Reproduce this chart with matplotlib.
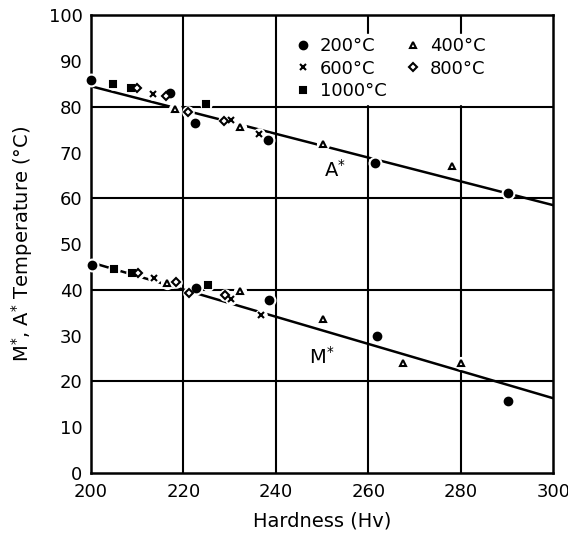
"""M*, A* temperature against hardness for several tempering temperatures"""

import matplotlib.pyplot as plt

# A* points per tempering temperature (hardness Hv, temperature degC)
a_200_hv = [200.1, 217.2, 222.5, 238.4, 261.5, 290.2]
a_200_t = [85.8, 83.0, 76.5, 72.7, 67.8, 61.2]
a_400_hv = [218.2, 232.3, 250.3, 278.1]
a_400_t = [79.6, 75.5, 71.8, 67.1]
a_600_hv = [213.5, 230.4, 236.4]
a_600_t = [82.7, 77.2, 74.0]
a_800_hv = [209.9, 216.2, 220.9, 228.9]
a_800_t = [84.0, 82.3, 78.9, 76.9]
a_1000_hv = [204.7, 208.7, 225.0]
a_1000_t = [84.9, 84.0, 80.7]

# M* points per tempering temperature
m_200_hv = [200.3, 222.7, 238.6, 261.8, 290.2]
m_200_t = [45.4, 40.5, 37.8, 29.8, 15.6]
m_400_hv = [216.4, 232.3, 250.3, 267.6, 280.1]
m_400_t = [41.5, 39.8, 33.6, 24.0, 24.1]
m_600_hv = [213.7, 230.4, 236.8]
m_600_t = [42.6, 38.1, 34.5]
m_800_hv = [210.2, 218.5, 221.3, 229.0]
m_800_t = [43.7, 41.8, 39.2, 38.9]
m_1000_hv = [205.0, 209.0, 225.4]
m_1000_t = [44.5, 43.7, 41.0]

# fitted lines (end points)
a_line_hv = [200, 300]
a_line_t = [84.5, 58.5]
m_line_hv = [200, 300]
m_line_t = [46.0, 16.3]

plt.rcParams["font.family"] = ["DejaVu Sans"]

fig = plt.figure(figsize=(5.68, 5.46), dpi=100)
ax = fig.add_axes([0.160, 0.134, 0.814, 0.838])

ax.set_xlim(200, 300)
ax.set_ylim(0, 100)

# grid only at every second line, like the original paper
for xv in [220, 240, 260, 280]:
    ax.axvline(xv, color="black", lw=1.5, zorder=1)
for yv in [20, 40, 60, 80]:
    ax.axhline(yv, color="black", lw=1.5, zorder=1)

ax.plot(a_line_hv, a_line_t, color="black", lw=1.8, zorder=2)
ax.plot(m_line_hv, m_line_t, color="black", lw=1.8, zorder=2)

styles = [
    ("200°C", "o", "black", 5.5),
    ("600°C", "x", "black", 4.5),
    ("1000°C", "s", "black", 4.5),
    ("400°C", "^", "white", 5),
    ("800°C", "D", "white", 4.5),
]
a_data = {"200°C": (a_200_hv, a_200_t), "400°C": (a_400_hv, a_400_t),
          "600°C": (a_600_hv, a_600_t), "800°C": (a_800_hv, a_800_t),
          "1000°C": (a_1000_hv, a_1000_t)}
m_data = {"200°C": (m_200_hv, m_200_t), "400°C": (m_400_hv, m_400_t),
          "600°C": (m_600_hv, m_600_t), "800°C": (m_800_hv, m_800_t),
          "1000°C": (m_1000_hv, m_1000_t)}

for label, marker, face, size in styles:
    for data in (a_data, m_data):
        hv, t = data[label]
        # white halo so the line looks broken around the points
        ax.plot(hv, t, linestyle="none", marker="o", ms=size + 3.5,
                color="white", zorder=3, clip_on=False)
    hv = a_data[label][0] + m_data[label][0]
    t = a_data[label][1] + m_data[label][1]
    ax.plot(hv, t, linestyle="none", marker=marker, ms=size, mfc=face,
            mec="black", mew=1.5, label=label, zorder=4, clip_on=False)

ax.text(252.8, 66.2, r"A$^{*}$", fontsize=14, ha="center", va="center")
ax.text(249.9, 25.4, r"M$^{*}$", fontsize=14, ha="center", va="center")

leg = ax.legend(loc="upper left", bbox_to_anchor=(0.44, 0.96), ncol=2,
                frameon=True, fontsize=13, handlelength=0.6,
                handletextpad=0.6, columnspacing=1.2, labelspacing=0.25,
                borderaxespad=0.0, borderpad=0.2)
leg.get_frame().set_edgecolor("white")
leg.get_frame().set_facecolor("white")
leg.get_frame().set_alpha(1)
leg.set_zorder(5)

ax.set_xticks([200, 220, 240, 260, 280, 300])
ax.set_yticks(range(0, 101, 10))
ax.tick_params(axis="x", length=0, labelsize=13, pad=7)
ax.tick_params(axis="y", length=0, labelsize=13, pad=6)

for sp in ax.spines.values():
    sp.set_linewidth(1.8)

ax.set_xlabel("Hardness (Hv)", fontsize=14, labelpad=8)
ax.set_ylabel(r"M$^{*}$, A$^{*}$ Temperature (°C)", fontsize=14, labelpad=10)

fig.savefig("out.png", dpi=100)
